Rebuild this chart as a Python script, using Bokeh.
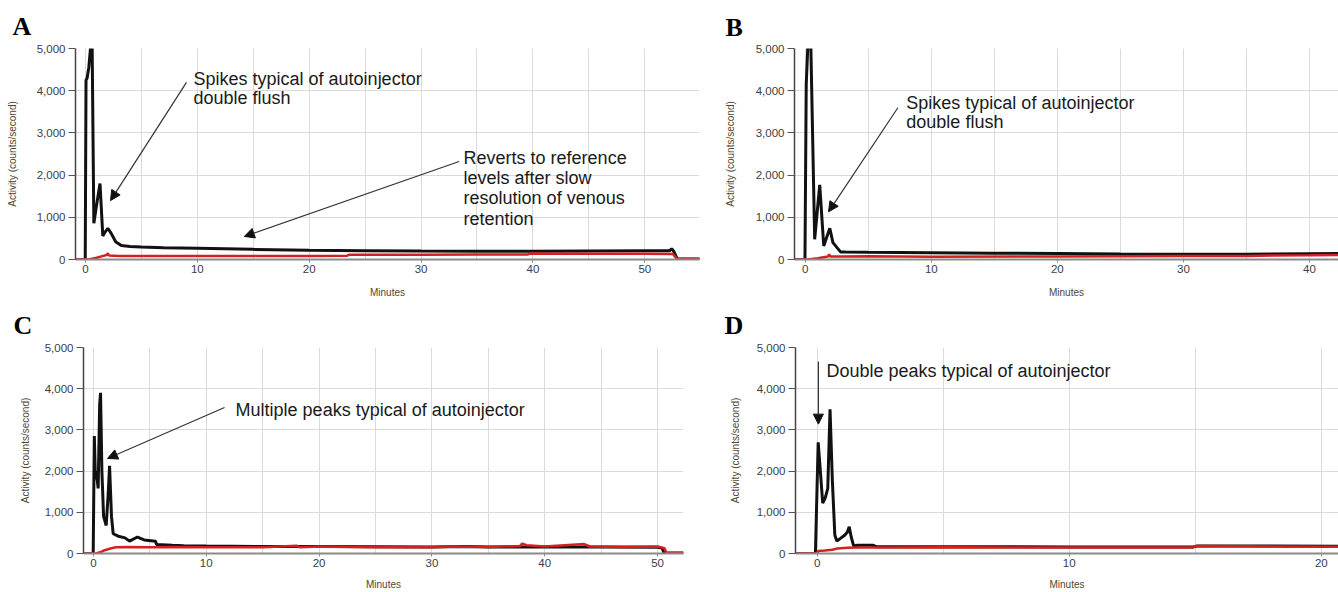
from bokeh.plotting import figure
from bokeh.layouts import column, row
from bokeh.models import (Range1d, SingleIntervalTicker, NumeralTickFormatter,
                          Arrow, NormalHead, ColumnDataSource)
from bokeh.embed import file_html
from bokeh.resources import INLINE
from bokeh.core.properties import value

# ---------------- data (minutes, counts/second) ----------------
# Panel A
a_black_t = [-0.9, -0.02, 0.05, 0.15, 0.3, 0.45, 0.52, 0.6, 0.75, 1.0, 1.3, 1.55, 1.75, 2.0, 2.3, 2.7,
             3.2, 4, 5, 7, 10, 15, 20, 25, 30, 35, 40, 45, 50, 52.2, 52.4, 52.6, 52.9, 55]
a_black_v = [0, 0, 4250, 4300, 4550, 5000, 5400, 5000, 860, 1300, 1800, 560, 650, 740, 620, 420,
             330, 310, 295, 280, 265, 240, 220, 210, 200, 195, 195, 200, 205, 205, 255, 190, 10, 10]
a_red_t = [-0.9, 0.3, 1.0, 1.5, 1.9, 2.0, 2.1, 3, 5, 10, 15, 20, 23.4, 23.6, 30, 35, 39.5, 39.8,
           45, 50, 52.5, 52.9, 55]
a_red_v = [0, 0, 40, 80, 105, 150, 95, 85, 80, 80, 85, 85, 90, 115, 115, 120, 120, 140,
           135, 135, 130, 10, 10]

# Panel B
b_black_t = [-0.85, -0.02, 0.08, 0.2, 0.3, 0.45, 0.75, 1.15, 1.47, 1.95, 2.2, 2.8, 3.2, 5, 10, 15,
             20, 25, 30, 35, 40, 42.3]
b_black_v = [0, 0, 4150, 5000, 5300, 5000, 480, 1770, 320, 740, 400, 180, 175, 170, 160, 150,
             140, 130, 125, 125, 135, 140]
b_red_t = [-0.85, 0.2, 1.0, 1.8, 1.9, 2.0, 3, 5, 10, 20, 30, 35, 37, 40, 42.3]
b_red_v = [0, 0, 30, 70, 120, 70, 70, 75, 65, 70, 80, 85, 95, 100, 105]

# Panel C
c_black_t = [-0.9, -0.02, 0.08, 0.18, 0.25, 0.42, 0.55, 0.63, 0.75, 0.9, 1.13, 1.3, 1.43, 1.6, 1.75,
             2.2, 2.8, 3.2, 3.9, 4.5, 5.5, 5.6, 7, 8, 10, 15, 20, 25, 30, 33, 35, 40, 45, 50,
             50.4, 50.6, 52.3]
c_black_v = [0, 0, 2850, 1800, 2000, 1580, 3600, 3900, 2000, 900, 680, 1400, 2130, 900, 480,
             420, 380, 300, 400, 330, 300, 220, 200, 190, 180, 170, 170, 165, 160, 170, 160, 160, 160, 150,
             130, 10, 10]
c_red_t = [-0.9, 0.2, 0.6, 1.0, 1.5, 2.0, 3, 5, 7, 10, 15, 18, 18.3, 20, 25, 30, 32, 35, 37.8, 38,
           38.4, 40, 43.5, 44, 47, 50, 50.6, 50.8, 52.3]
c_red_v = [0, 0, 30, 80, 120, 150, 155, 150, 160, 150, 150, 190, 150, 170, 150, 150, 170, 160, 180, 240,
           200, 170, 230, 170, 160, 170, 130, 10, 10]

# Panel D
d_black_t = [-0.86, -0.07, 0.04, 0.22, 0.32, 0.42, 0.51, 0.6, 0.7, 0.78, 0.95, 1.1, 1.2, 1.27, 1.35,
             1.45, 1.6, 2.2, 2.35, 3, 5, 10, 14.9, 15.1, 20.7]
d_black_v = [0, 0, 2700, 1220, 1350, 1580, 3500, 1800, 450, 300, 380, 450, 520, 650, 400,
             180, 200, 200, 165, 165, 165, 160, 160, 185, 175]
d_red_t = [-0.86, -0.02, 0.05, 0.3, 0.6, 0.8, 1.2, 1.6, 3, 5, 10, 14.9, 15.0, 17, 20.7]
d_red_v = [0, 0, 60, 70, 90, 120, 140, 145, 145, 150, 145, 145, 180, 175, 165]

panel_letters = ["A", "B", "C", "D"]
x_label = "Minutes"
y_label = "Activity (counts/second)"

# annotation text (data coordinates: left x, baseline y)
a_note1 = ["Spikes typical of autoinjector", "double flush"]
a_note1_x = [9.66, 9.66]
a_note1_y = [4282, 3819]
a_note2 = ["Reverts to reference", "levels after slow", "resolution of venous", "retention"]
a_note2_x = [33.8, 33.8, 33.8, 33.8]
a_note2_y = [2398, 1928, 1449, 963]
b_note = ["Spikes typical of autoinjector", "double flush"]
b_note_x = [8.02, 8.02]
b_note_y = [3710, 3252]
c_note = ["Multiple peaks typical of autoinjector"]
c_note_x = [12.6]
c_note_y = [3494]
d_note = ["Double peaks typical of autoinjector"]
d_note_x = [0.365]
d_note_y = [4424]

# arrows: (x_start, y_start, x_end, y_end)
a_arrows = [(9.03, 4197, 2.24, 1396), (33.4, 2322, 14.2, 546)]
b_arrows = [(7.35, 3596, 1.85, 1129)]
c_arrows = [(11.62, 3542, 1.25, 2307)]
d_arrows = [(0.048, 4658, 0.048, 3140)]

BLACK = "#111111"
RED = "#d42020"
SANS = "Liberation Sans"


def make_panel(width, height, borders, xr, letter, letter_dx, letter_standoff, letter_valign,
               ylabel_standoff, xlabel_standoff, bt, bv, rt, rv, notes, arrows):
    left, right, top, bottom = borders
    p = figure(width=width, height=height, output_backend="svg", toolbar_location=None,
               x_range=Range1d(*xr), y_range=Range1d(0, 5000),
               min_border_left=left, min_border_right=right,
               min_border_top=top, min_border_bottom=bottom)
    p.outline_line_color = None
    p.background_fill_color = "white"
    p.border_fill_color = "white"

    # panel letter as the title
    p.title.text = letter
    p.title.align = "left"
    p.title.vertical_align = letter_valign
    p.title.offset = letter_dx
    p.title.text_font = "Liberation Serif"
    p.title.text_font_style = "bold"
    p.title.text_font_size = "26px"
    p.title.text_color = "#000000"
    p.title.standoff = letter_standoff

    p.xaxis.ticker = SingleIntervalTicker(interval=10, num_minor_ticks=0)
    p.xgrid.ticker = SingleIntervalTicker(interval=5, num_minor_ticks=0)
    p.yaxis.ticker = SingleIntervalTicker(interval=1000, num_minor_ticks=0)
    p.ygrid.ticker = SingleIntervalTicker(interval=1000, num_minor_ticks=0)
    p.yaxis.formatter = NumeralTickFormatter(format="0,0")
    p.grid.grid_line_color = "#dadada"
    p.grid.grid_line_width = 1

    for ax in (p.xaxis, p.yaxis):
        ax.major_label_text_font = SANS
        ax.major_label_text_font_size = "11.5px"
        ax.major_label_text_color = "#3a3d4a"
        ax.minor_tick_line_color = None
        ax.major_tick_in = 0
        ax.axis_label_text_font = SANS
        ax.axis_label_text_font_size = "10px"
        ax.axis_label_text_font_style = "normal"
        ax.axis_label_text_color = "#51462f"

    p.yaxis.axis_line_color = "#444444"
    p.yaxis.axis_line_width = 1.5
    p.yaxis.major_tick_line_color = "#555555"
    p.yaxis.major_tick_out = 7
    p.yaxis.major_label_standoff = 3
    p.yaxis.axis_label = y_label
    p.yaxis.axis_label_standoff = ylabel_standoff

    p.xaxis.axis_line_color = "#8a8a8a"
    p.xaxis.axis_line_width = 2
    p.xaxis.major_tick_line_color = "#8a8a8a"
    p.xaxis.major_tick_out = 3
    p.xaxis.major_label_standoff = 2
    p.xaxis.axis_label = x_label
    p.xaxis.axis_label_standoff = xlabel_standoff

    p.line(bt, bv, line_color=BLACK, line_width=3)
    p.line(rt, rv, line_color=RED, line_width=2.5)

    for (txt, xs, ys) in notes:
        src = ColumnDataSource(dict(x=xs, y=ys, t=txt))
        p.text(x="x", y="y", text="t", source=src, text_font=value(SANS),
               text_font_size="18px", text_baseline="alphabetic", text_align="left",
               text_color="#1a1a1a")
    for (x0, y0, x1, y1) in arrows:
        p.add_layout(Arrow(end=NormalHead(size=10, fill_color="#111111", line_color="#111111"),
                           x_start=x0, y_start=y0, x_end=x1, y_end=y1,
                           line_color="#333333", line_width=1.2))
    return p


pa = make_panel(720, 300, (75, 21, 48, 36), (-0.89, 54.89), panel_letters[0], -63, 15, "bottom", 16, 11,
                a_black_t, a_black_v, a_red_t, a_red_v,
                [(a_note1, a_note1_x, a_note1_y), (a_note2, a_note2_x, a_note2_y)], a_arrows)
pb = make_panel(618, 300, (74, 0, 46, 36), (-0.85, 42.3), panel_letters[1], -69, 13, "bottom", 17, 11,
                b_black_t, b_black_v, b_red_t, b_red_v,
                [(b_note, b_note_x, b_note_y)], b_arrows)
pc = make_panel(720, 292, (83, 37, 47, 39), (-0.88, 52.3), panel_letters[2], -70, 12, "top", 11, 9,
                c_black_t, c_black_v, c_red_t, c_red_v,
                [(c_note, c_note_x, c_note_y)], c_arrows)
pd = make_panel(618, 292, (75, 0, 47, 38), (-0.86, 20.68), panel_letters[3], -71, 12, "top", 13, 9,
                d_black_t, d_black_v, d_red_t, d_red_v,
                [(d_note, d_note_x, d_note_y)], d_arrows)

layout = column(row(pa, pb), row(pc, pd))
open("out.html", "w").write(file_html(layout, INLINE))
